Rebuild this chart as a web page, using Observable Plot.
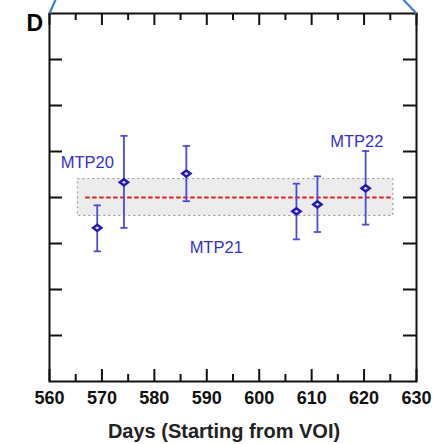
<!DOCTYPE html>
<html>
<head>
<meta charset="utf-8">
<script src="https://cdn.jsdelivr.net/npm/d3@7"></script>
<script src="https://cdn.jsdelivr.net/npm/@observablehq/plot@0.6"></script>
<style>
  html, body { margin: 0; padding: 0; background: #fff; }
</style>
</head>
<body>
<div id="chart"></div>
<script>
// ---- data ----
const days   = [569.1, 574.2, 586.1, 607.1, 611.1, 620.3];
const values = [-0.66, 0.33, 0.52, -0.30, -0.15, 0.20];
const lower  = [-1.17, -0.66, -0.08, -0.91, -0.75, -0.59];
const upper  = [-0.17, 1.34, 1.12, 0.30, 0.46, 1.01];

const labelNames = ["MTP20", "MTP21", "MTP22"];
const labelDays  = [567.2, 591.8, 618.6];
const labelY     = [0.64, -1.20, 1.10];

const bandDays  = [565.4, 625.6];
const bandRange = [-0.4, 0.4];
const refLineDays = [566.9, 625.5];
const refValue = 0;

const xMajorTicks = [560, 570, 580, 590, 600, 610, 620, 630];
const xMinorTicks = [565, 575, 585, 595, 605, 615, 625];
const yTicks = [-3, -2, -1, 0, 1, 2, 3];
const xDomain = [560, 630];
const yDomain = [-4, 4];

const panelLetter = "D";
const xTitle = "Days (Starting from VOI)";

// zoom connector lines (from the panel above)
const connX1 = [560, 630];
const connX2 = [561.15, 627.5];
const connY1 = [4, 4];
const connY2 = [4.3, 4.3];

// ---- build tables ----
const points = days.map((d, i) => ({day: d, value: values[i], lo: lower[i], hi: upper[i]}));
const labels = labelNames.map((n, i) => ({name: n, day: labelDays[i], y: labelY[i]}));
const band = [{x1: bandDays[0], x2: bandDays[1], y1: bandRange[0], y2: bandRange[1]}];
const connectors = connX1.map((x, i) => ({x1: x, x2: connX2[i], y1: connY1[i], y2: connY2[i]}));

const W = 441, H = 444;
const mL = 49, mR = 25, mT = 13, mB = 63;
const frameW = W - mL - mR, frameH = H - mT - mB;
const majorLen = 12, minorLen = 7, yTickLen = 13;

const capSymbol = {
  draw(context, size) {
    const r = Math.sqrt(size / Math.PI);
    context.moveTo(-r, 0); context.lineTo(r, 0);
  }
};
const wideDiamond = {
  draw(context, size) {
    const r = Math.sqrt(size / Math.PI);
    const w = r * 1.35, h = r;
    context.moveTo(-w, 0); context.lineTo(0, -h); context.lineTo(w, 0); context.lineTo(0, h); context.closePath();
  }
};

const font = "Liberation Sans, Arial, Helvetica, sans-serif";
const barColor = "#4f48dc";
const markColor = "#2418b0";
const labelColor = "#3430d0";

const chart = Plot.plot({
  width: W, height: H,
  marginLeft: mL, marginRight: mR, marginTop: mT, marginBottom: mB,
  style: {fontFamily: font, fontSize: "18px", fontWeight: "bold", color: "#111", background: "#fff"},
  x: {domain: xDomain, ticks: xMajorTicks, tickSize: 0, tickPadding: 10, tickFormat: d => String(d), label: null},
  y: {domain: yDomain, axis: null},
  marks: [
    // gray tolerance band
    Plot.rect(band, {x1: "x1", x2: "x2", y1: "y1", y2: "y2", fill: "#ececec", stroke: "#8f8f8f", strokeWidth: 1, strokeDasharray: "2,3"}),
    // red reference line
    Plot.ruleY([refValue], {x1: refLineDays[0], x2: refLineDays[1], stroke: "#e0231e", strokeWidth: 2, strokeDasharray: "4.5,2.5"}),
    // error bars
    Plot.ruleX(points, {x: "day", y1: "lo", y2: "hi", stroke: barColor, strokeWidth: 1.8}),
    Plot.dot(points, {x: "day", y: "lo", symbol: capSymbol, r: 3.6, stroke: barColor, strokeWidth: 1.8, fill: "none"}),
    Plot.dot(points, {x: "day", y: "hi", symbol: capSymbol, r: 3.6, stroke: barColor, strokeWidth: 1.8, fill: "none"}),
    // markers
    Plot.dot(points, {x: "day", y: "value", symbol: wideDiamond, r: 3.1, stroke: markColor, strokeWidth: 2.4, fill: "#d4d3f6"}),
    // MTP labels
    Plot.text(labels, {x: "day", y: "y", text: "name", fill: labelColor, fontSize: 16.5, fontWeight: "normal", lineAnchor: "bottom", fontFamily: font}),
    // inside ticks: bottom & top
    Plot.tickX(xMajorTicks, {x: d => d, insetTop: frameH - majorLen, stroke: "#111", strokeWidth: 2}),
    Plot.tickX(xMinorTicks, {x: d => d, insetTop: frameH - minorLen, stroke: "#111", strokeWidth: 2}),
    Plot.tickX(xMajorTicks, {x: d => d, insetBottom: frameH - majorLen, stroke: "#111", strokeWidth: 2}),
    Plot.tickX(xMinorTicks, {x: d => d, insetBottom: frameH - minorLen, stroke: "#111", strokeWidth: 2}),
    // inside ticks: left & right
    Plot.tickY(yTicks, {y: d => d, insetRight: frameW - yTickLen, stroke: "#111", strokeWidth: 2}),
    Plot.tickY(yTicks, {y: d => d, insetLeft: frameW - yTickLen, stroke: "#111", strokeWidth: 2}),
    // frame
    Plot.frame({stroke: "#111", strokeWidth: 2}),
    // zoom connectors
    Plot.link(connectors, {x1: "x1", y1: "y1", x2: "x2", y2: "y2", stroke: "#3d7fd1", strokeWidth: 2.2}),
    // panel letter
    Plot.text([panelLetter], {frameAnchor: "top-left", dx: -23, dy: 17, lineAnchor: "bottom", text: d => d, fontSize: 23, fontWeight: "bold", fill: "#000", fontFamily: font}),
    // x axis title
    Plot.text([xTitle], {frameAnchor: "bottom", dx: -9, dy: 56, lineAnchor: "bottom", text: d => d, fontSize: 20, fontWeight: "bold", fill: "#222", fontFamily: font})
  ]
});
document.getElementById("chart").appendChild(chart);
</script>
</body>
</html>
